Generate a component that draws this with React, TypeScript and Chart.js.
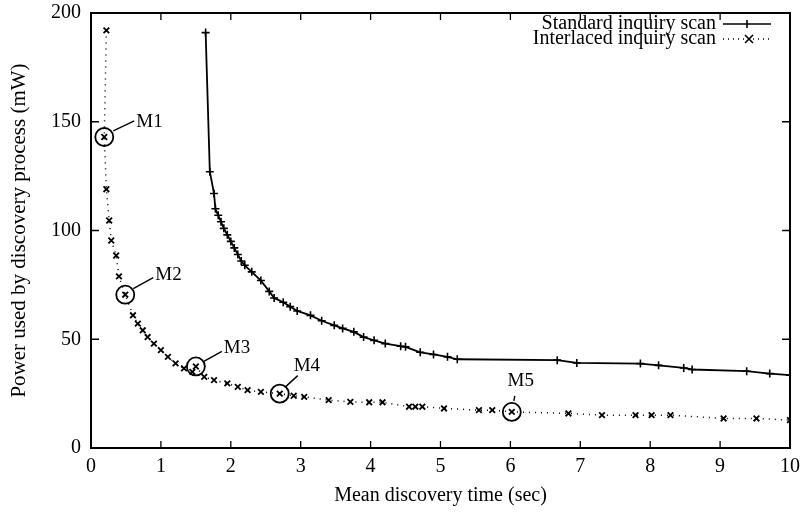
import React, { useEffect, useRef } from "react";
import { Chart, registerables } from "chart.js";

Chart.register(...registerables);

const stdX = [1.64, 1.70, 1.76, 1.78, 1.82, 1.86, 1.90, 1.95, 2.0, 2.05, 2.1, 2.15, 2.2, 2.3, 2.43, 2.55, 2.62, 2.75, 2.85, 2.95, 3.14, 3.3, 3.48, 3.6, 3.76, 3.9, 4.05, 4.21, 4.43, 4.5, 4.71, 4.9, 5.1, 5.24, 6.67, 6.95, 7.86, 8.12, 8.48, 8.6, 9.38, 9.71, 10.0];
const stdY = [191, 127, 117, 110, 107, 104, 101, 98, 95, 92, 89, 86, 84, 81, 77, 72, 69, 67, 65, 63, 61, 58.5, 56.4, 55, 53.4, 51, 49.5, 48, 46.8, 46.5, 44, 43, 41.9, 40.8, 40.4, 39.1, 38.8, 38, 36.8, 36.1, 35.3, 34.2, 33.5];

const intX = [0.22, 0.19, 0.22, 0.26, 0.29, 0.36, 0.40, 0.49, 0.60, 0.67, 0.74, 0.81, 0.90, 1.0, 1.1, 1.21, 1.33, 1.45, 1.5, 1.62, 1.76, 1.95, 2.1, 2.24, 2.43, 2.7, 2.9, 3.05, 3.40, 3.71, 3.98, 4.17, 4.55, 4.64, 4.74, 5.05, 5.55, 5.74, 6.02, 6.83, 7.31, 7.79, 8.02, 8.29, 9.05, 9.52, 10.0];
const intY = [192, 143, 119, 104.6, 95.4, 88.5, 78.9, 70.5, 61, 57.2, 54.1, 51, 48, 45, 41.9, 38.9, 36.6, 35, 37.5, 32.7, 31.2, 29.7, 28.1, 26.6, 25.8, 25, 24, 23.5, 22, 21.2, 21, 21, 19, 19, 19, 18.2, 17.4, 17.4, 16.6, 15.9, 15.1, 15.1, 15.1, 15.1, 13.6, 13.6, 12.8];

const markNames = ["M1", "M2", "M3", "M4", "M5"];
const markX = [0.19, 0.49, 1.5, 2.7, 6.02];
const markY = [143, 70.5, 37.5, 25, 16.6];

const xTicks = [0, 1, 2, 3, 4, 5, 6, 7, 8, 9, 10];
const yTicks = [0, 50, 100, 150, 200];

const seriesNames = ["Standard inquiry scan", "Interlaced inquiry scan"];
const xTitle = "Mean discovery time (sec)";
const yTitle = "Power used by discovery process (mW)";

const FONT = "'Liberation Serif', 'DejaVu Serif', serif";

// label offsets (pixels) relative to marker: [lineStartDx, lineStartDy, lineEndDx, lineEndDy, textX, textY, align]
const labelOffsets: [number, number, number, number, number, number, CanvasTextAlign][] = [
  [9, -6, 30, -16, 32, -15, "left"],
  [8, -6, 28, -17, 30, -20, "left"],
  [8, -5, 26, -15, 28, -18, "left"],
  [6, -7, 18, -18, 14, -28, "left"],
  [2, -11, 3, -16, 9, -31, "center"],
];

const decorPlugin = {
  id: "decor",
  afterDraw(chart: any) {
    const { ctx, chartArea: a, scales } = chart;
    const xs = scales.x;
    const ys = scales.y;
    ctx.save();
    ctx.strokeStyle = "#000";
    ctx.lineWidth = 2;
    ctx.strokeRect(a.left, a.top, a.right - a.left, a.bottom - a.top);
    ctx.lineWidth = 1.3;
    xTicks.forEach((v) => {
      const px = xs.getPixelForValue(v);
      ctx.beginPath();
      ctx.moveTo(px, a.bottom);
      ctx.lineTo(px, a.bottom - 7);
      ctx.moveTo(px, a.top);
      ctx.lineTo(px, a.top + 7);
      ctx.stroke();
    });
    yTicks.forEach((v) => {
      const py = ys.getPixelForValue(v);
      ctx.beginPath();
      ctx.moveTo(a.left, py);
      ctx.lineTo(a.left + 8, py);
      ctx.moveTo(a.right, py);
      ctx.lineTo(a.right - 8, py);
      ctx.stroke();
    });
    // marker labels
    ctx.fillStyle = "#000";
    ctx.font = `19px ${FONT}`;
    ctx.textBaseline = "middle";
    ctx.lineWidth = 1.4;
    markNames.forEach((n, i) => {
      const px = xs.getPixelForValue(markX[i]);
      const py = ys.getPixelForValue(markY[i]);
      const o = labelOffsets[i];
      ctx.beginPath();
      ctx.moveTo(px + o[0], py + o[1]);
      ctx.lineTo(px + o[2], py + o[3]);
      ctx.stroke();
      ctx.textAlign = o[6];
      ctx.fillText(n, px + o[4], py + o[5]);
    });
    // legend
    ctx.font = `20px ${FONT}`;
    ctx.textAlign = "right";
    const lx = 716;
    const rows = [24, 39];
    seriesNames.forEach((n, i) => {
      const y = rows[i];
      ctx.fillText(n, lx, y);
      ctx.beginPath();
      ctx.lineWidth = 1.6;
      ctx.setLineDash(i === 0 ? [] : [1, 4]);
      ctx.moveTo(723, y);
      ctx.lineTo(771, y);
      ctx.stroke();
      ctx.setLineDash([]);
      ctx.lineWidth = 1.6;
      ctx.beginPath();
      if (i === 0) {
        ctx.moveTo(747, y - 4);
        ctx.lineTo(747, y + 4);
      } else {
        ctx.moveTo(745, y - 4);
        ctx.lineTo(753, y + 4);
        ctx.moveTo(753, y - 4);
        ctx.lineTo(745, y + 4);
      }
      ctx.stroke();
    });
    ctx.restore();
  },
};

export default function App() {
  const ref = useRef<HTMLCanvasElement>(null);
  useEffect(() => {
    if (!ref.current) return;
    const chart = new Chart(ref.current, {
      type: "scatter",
      data: {
        datasets: [
          {
            label: seriesNames[0],
            data: stdX.map((x, i) => ({ x, y: stdY[i] })),
            showLine: true,
            borderColor: "#000",
            backgroundColor: "#000",
            borderWidth: 1.8,
            pointStyle: "cross",
            pointRadius: 4,
            pointBorderWidth: 1.6,
          },
          {
            label: seriesNames[1],
            data: intX.map((x, i) => ({ x, y: intY[i] })),
            showLine: true,
            borderColor: "#000",
            backgroundColor: "#000",
            borderWidth: 1.5,
            borderDash: [1, 5],
            pointStyle: "crossRot",
            pointRadius: 4,
            pointBorderWidth: 1.8,
          },
          {
            label: "markers",
            data: markX.map((x, i) => ({ x, y: markY[i] })),
            showLine: false,
            borderColor: "#000",
            backgroundColor: "#fff",
            pointStyle: "circle",
            pointRadius: 9,
            pointBorderWidth: 1.8,
          },
          {
            label: "markersX",
            data: markX.map((x, i) => ({ x, y: markY[i] })),
            showLine: false,
            borderColor: "#000",
            backgroundColor: "#000",
            pointStyle: "crossRot",
            pointRadius: 8.5,
            pointBorderWidth: 1.5,
          },
        ],
      },
      options: {
        animation: false,
        responsive: false,
        layout: { padding: { top: 0, right: 12, left: 0, bottom: 0 } },
        plugins: { legend: { display: false }, tooltip: { enabled: false } },
        scales: {
          x: {
            type: "linear",
            min: 0,
            max: 10,
            afterFit: (s: any) => { s.height = 64; },
            afterBuildTicks: (s: any) => { s.ticks = xTicks.map((v) => ({ value: v })); },
            grid: { display: false, drawTicks: false },
            border: { display: false },
            ticks: { color: "#000", font: { family: FONT, size: 20 }, padding: 7, maxRotation: 0, autoSkip: false },
            title: { display: true, text: xTitle, color: "#000", font: { family: FONT, size: 20 }, padding: { top: 4, bottom: 4 } },
          },
          y: {
            type: "linear",
            min: 0,
            max: 200,
            afterFit: (s: any) => { s.width = 91; },
            afterBuildTicks: (s: any) => { s.ticks = yTicks.map((v) => ({ value: v })); },
            grid: { display: false, drawTicks: false },
            border: { display: false },
            ticks: { color: "#000", font: { family: FONT, size: 20, lineHeight: 0.3 }, padding: 10 },
            title: { display: true, text: yTitle, color: "#000", font: { family: FONT, size: 21 }, padding: { top: 7, bottom: 2 } },
          },
        },
      },
      plugins: [decorPlugin],
    });
    return () => chart.destroy();
  }, []);
  return (
    <div style={{ position: "fixed", left: 0, top: 0, width: 807, height: 512, background: "#fff" }}>
      <canvas ref={ref} width={807} height={512} style={{ width: 807, height: 512 }} />
    </div>
  );
}
